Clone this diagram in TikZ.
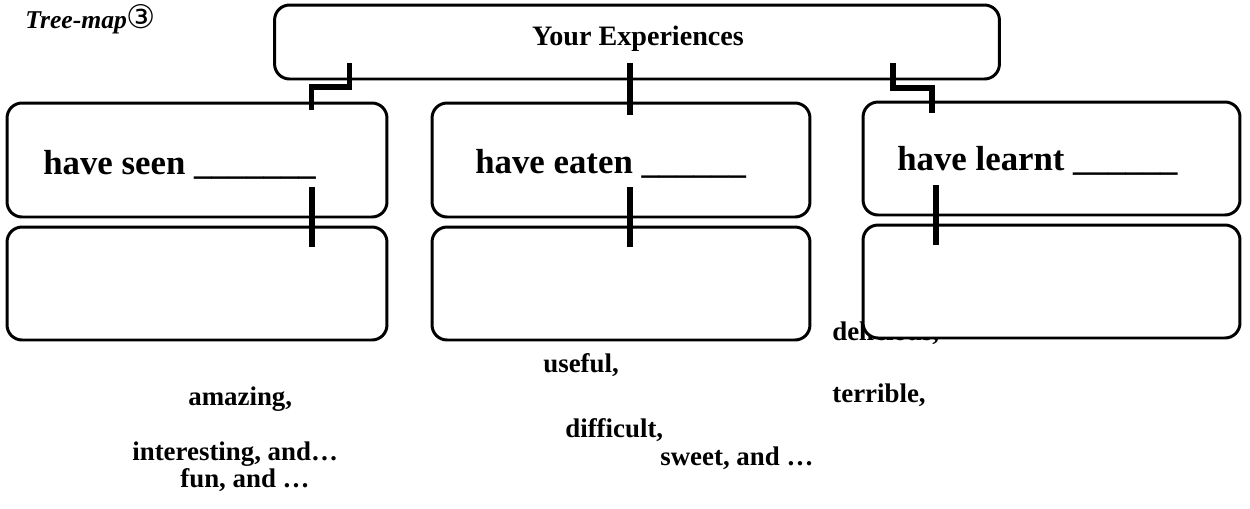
\documentclass[tikz,border=0pt]{standalone}
\usepackage{fontspec}
\setmainfont{Liberation Serif}
\newfontfamily\circfont{DejaVu Sans}
\tikzset{
  box/.style={shape=rectangle, draw=black, fill=white, line width=1.7pt, rounded corners=0.3cm, inner sep=0pt},
  link/.style={line width=3.4pt},
  word/.style={anchor=base west, inner sep=0pt, font=\bfseries\fontsize{15.3}{18}\selectfont},
  head/.style={anchor=base west, inner sep=0pt, font=\bfseries\fontsize{19.8}{23}\selectfont}
}
\begin{document}
\begin{tikzpicture}[x=0.02cm, y=-0.02cm]
%%%%%%%%%%%%%%%%%%%%%%%%%%%%%%%%%%%%%%%%%%% HELP LINES
%\draw[help lines] (0,0) grid +(1250,508);
\useasboundingbox (0,0) rectangle (1250,508);

%%%%% title
\node[anchor=base west, inner sep=0pt, font=\bfseries\itshape\fontsize{14.6}{17}\selectfont](title) at (25,28) {Tree-map{\circfont\mdseries\upshape\fontsize{18.5}{20}\selectfont ③}};

%%%%% loose words (under the boxes)
\node[word](delicious) at (832,340) {delicious,};
\node[word](useful) at (543,372) {useful,};
\node[word](amazing) at (188,405) {amazing,};
\node[word](terrible) at (832,402) {terrible,};
\node[word](difficult) at (565,437) {difficult,};
\node[word](interesting) at (132,460) {interesting, and\ldots};
\node[word](sweet) at (660,465) {sweet, and \ldots};
\node[word](fun) at (180,487) {fun, and \ldots};

%%%%% elements
\node[box, minimum width=14.5cm, minimum height=1.48cm](top) at (637,42) {};
\node[anchor=base, inner sep=0pt, font=\bfseries\fontsize{16}{19}\selectfont](toplabel) at (638,45) {Your Experiences};

\node[box, minimum width=7.6cm, minimum height=2.28cm](seen) at (197,160) {};
\node[box, minimum width=7.6cm, minimum height=2.26cm](seenbox) at (197,283.5) {};
\node[box, minimum width=7.56cm, minimum height=2.28cm](eaten) at (621,160) {};
\node[box, minimum width=7.56cm, minimum height=2.26cm](eatenbox) at (621,283.5) {};
\node[box, minimum width=7.54cm, minimum height=2.26cm](learnt) at (1051.5,158.5) {};
\node[box, minimum width=7.54cm, minimum height=2.26cm](learntbox) at (1051.5,281.5) {};

\node[head](seenlabel) at (43,174) {have seen \_\_\_\_\_\_\_};
\node[head](eatenlabel) at (475,173) {have eaten \_\_\_\_\_\_};
\node[head](learntlabel) at (897,170) {have learnt \_\_\_\_\_\_};

%%%%% connectors
\coordinate (topleft) at (349.5,63);
\coordinate (topmid) at (630,63);
\coordinate (topright) at (893,63);
\coordinate (seenup) at (311.5,110);
\coordinate (eatenup) at (630,115);
\coordinate (learntup) at (932,113);
\draw[link] (topleft) -- ++(0,24) -| (seenup);
\draw[link] (topmid) -- (eatenup);
\draw[link] (topright) -- ++(0,25) -| (learntup);

\coordinate (seendown) at (312,187);
\coordinate (seenlow) at (312,247);
\coordinate (eatendown) at (630,187);
\coordinate (eatenlow) at (630,247);
\coordinate (learntdown) at (936,185);
\coordinate (learntlow) at (936,245);
\draw[link] (seendown) -- (seenlow);
\draw[link] (eatendown) -- (eatenlow);
\draw[link] (learntdown) -- (learntlow);
\end{tikzpicture}
\end{document}
